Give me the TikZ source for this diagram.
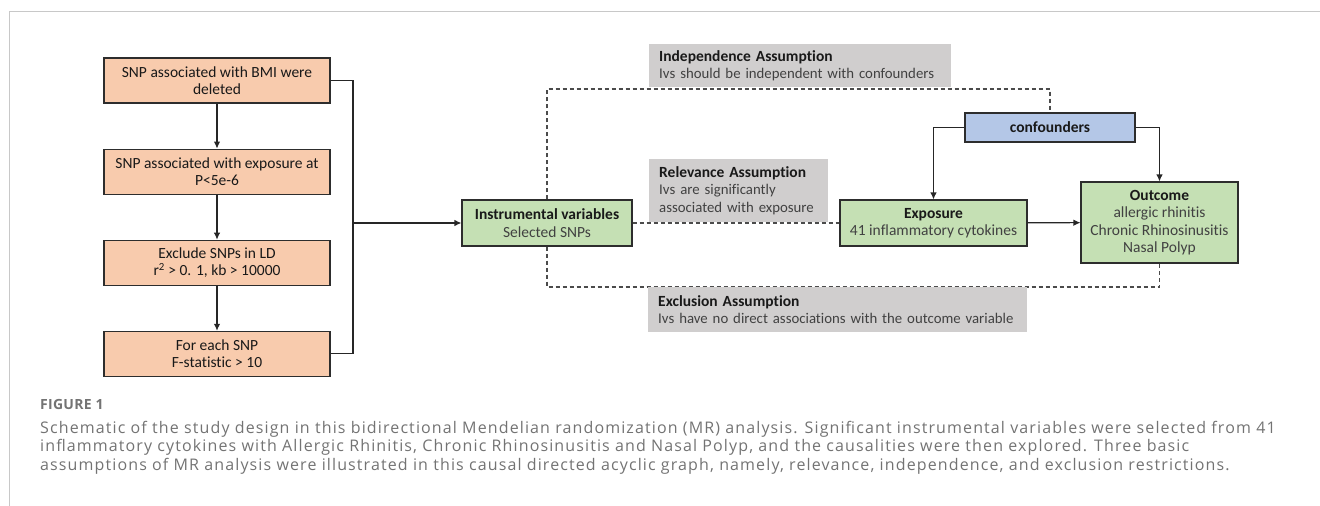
\documentclass[tikz,border=0pt]{standalone}
\usepackage{fontspec}
\setmainfont{Carlito}[Ligatures=NoCommon]
\newfontfamily\capfont{Open Sans}[LetterSpace=7]
\newfontfamily\figfont{Open Sans}[LetterSpace=2]
\usetikzlibrary{
  arrows.meta,
  positioning
}
\definecolor{stepcolor}{RGB}{248, 203, 173}
\definecolor{ivcolor}{RGB}{197, 224, 180}
\definecolor{confcolor}{RGB}{180, 199, 231}
\definecolor{assumcolor}{RGB}{208, 206, 206}
\definecolor{edgecolor}{RGB}{45, 45, 45}
\definecolor{dashcolor}{RGB}{75, 75, 75}
\definecolor{labelcolor}{RGB}{25, 25, 25}
\definecolor{sublabelcolor}{RGB}{65, 65, 65}
\definecolor{captioncolor}{RGB}{115, 115, 115}
\definecolor{framecolor}{RGB}{200, 200, 200}
\newcommand{\asmtitle}[1]{{\color{labelcolor}\fontsize{15.5}{17.4}\selectfont\bfseries #1}}
\tikzset{
blocktext/.style={
  align=center,
  font=\fontsize{15.5}{17.4}\selectfont,
  text=labelcolor
},
stepblock/.style={
  draw=edgecolor,
  line width=1.1pt,
  fill=stepcolor,
  minimum height=45pt,
  minimum width=226pt,
  inner sep=0pt,
  blocktext
},
ivblock/.style={
  draw=edgecolor,
  line width=1.1pt,
  fill=ivcolor,
  minimum height=46pt,
  inner sep=0pt,
  blocktext
},
confblock/.style={
  draw=edgecolor,
  line width=1.1pt,
  fill=confcolor,
  minimum height=29pt,
  minimum width=170pt,
  inner sep=0pt,
  blocktext
},
assumbox/.style={
  fill=assumcolor,
  anchor=north west,
  align=left,
  inner xsep=10pt,
  inner ysep=0pt,
  font=\fontsize{14.8}{17.4}\selectfont,
  text=sublabelcolor
},
captiontext/.style={
  anchor=base west,
  inner sep=0pt,
  font=\capfont\fontsize{16}{18.5}\selectfont,
  text=captioncolor
},
arrow/.style={
  -{Latex[length=7pt,width=6.5pt]},
  line width=1.1pt,
  draw=black!85
},
line/.style={
  line width=1.1pt,
  draw=black!85
},
dashedline/.style={
  draw=dashcolor,
  line width=1.1pt,
  dash pattern=on 4pt off 3pt
}
}

\begin{document}
\begin{tikzpicture}[
    x=1pt, y=-1pt,
    node distance=45pt
]
\useasboundingbox (0,0) rectangle (1320,506);

% ============================================================================
% Frame
% ============================================================================
\draw[framecolor, line width=1pt] (9.5,506) -- (9.5,11.5) -- (1320,11.5);

% ============================================================================
% IV selection steps
% ============================================================================
\node[stepblock] (bmi) at (217,80.5) {SNP associated with BMI were\\deleted};
\node[stepblock, below=of bmi] (pval) {SNP associated with exposure at\\P<5e-6};
\node[stepblock, below=of pval] (ld) {Exclude SNPs in LD\\r\textsuperscript{2} > 0. 1, kb > 10000};
\node[stepblock, below=of ld] (fstat) {For each SNP\\F-statistic > 10};

\draw[arrow] (bmi) -- (pval);
\draw[arrow] (pval) -- (ld);
\draw[arrow] (ld) -- (fstat);

% ============================================================================
% Causal graph
% ============================================================================
\node[ivblock, minimum width=170pt] (iv) at (547,223) {\textbf{Instrumental variables}\\{\color{sublabelcolor}Selected SNPs}};
\node[ivblock, minimum width=187pt] (expo) at (933.5,223) {\textbf{Exposure}\\{\color{sublabelcolor}41 inflammatory cytokines}};
\node[ivblock, minimum width=157pt, minimum height=81pt] (outcome) at (1159.5,222.5) {\textbf{Outcome}\\{\color{sublabelcolor}allergic rhinitis}\\{\color{sublabelcolor}Chronic Rhinosinusitis}\\{\color{sublabelcolor}Nasal Polyp}};
\node[confblock] (conf) at (1050,127.5) {\textbf{confounders}};

% bracket from the steps to the IVs
\coordinate (join) at (353,223);
\draw[line] (bmi.east) -| (join);
\draw[line] (fstat.east) -| (join);
\draw[arrow] (join) -- (iv.west);

% solid links
\draw[arrow] (conf.west) -| (expo.north);
\draw[arrow] (conf.east) -| (outcome.north);
\draw[arrow] (expo) -- (outcome);

% assumption paths
\coordinate (toprail) at (546,89);
\coordinate (botrail) at (546,287);
\draw[dashedline] (iv.north) -- (iv.north |- toprail) -| (conf.north);
\draw[dashedline] (iv.east) -- (expo.west);
\draw[dashedline] (iv.south) -- (iv.south |- botrail) -| (outcome.south);

% ============================================================================
% Assumption labels
% ============================================================================
\node[assumbox, minimum width=302pt, minimum height=43pt, text width=282pt] (indep) at (649,44)
  {\asmtitle{Independence Assumption}\\Ivs should be independent with confounders};
\node[assumbox, minimum width=179pt, minimum height=63pt, text width=159pt] (relev) at (649,159)
  {\asmtitle{Relevance Assumption}\\Ivs are significantly\\associated with exposure};
\node[assumbox, minimum width=379pt, minimum height=45pt, text width=359pt] (excl) at (648,287)
  {\asmtitle{Exclusion Assumption}\\Ivs have no direct associations with the outcome variable};

% ============================================================================
% Caption
% ============================================================================
\node[captiontext, font=\figfont\bfseries\fontsize{14}{17}\selectfont] (figlabel) at (40,409) {FIGURE 1};
\node[captiontext] (cap1) at (40,433) {Schematic of the study design in this bidirectional Mendelian randomization (MR) analysis. Significant instrumental variables were selected from 41};
\node[captiontext] (cap2) at (40,451.5) {inflammatory cytokines with Allergic Rhinitis, Chronic Rhinosinusitis and Nasal Polyp, and the causalities were then explored. Three basic};
\node[captiontext] (cap3) at (40,470) {assumptions of MR analysis were illustrated in this causal directed acyclic graph, namely, relevance, independence, and exclusion restrictions.};

\end{tikzpicture}
\end{document}
